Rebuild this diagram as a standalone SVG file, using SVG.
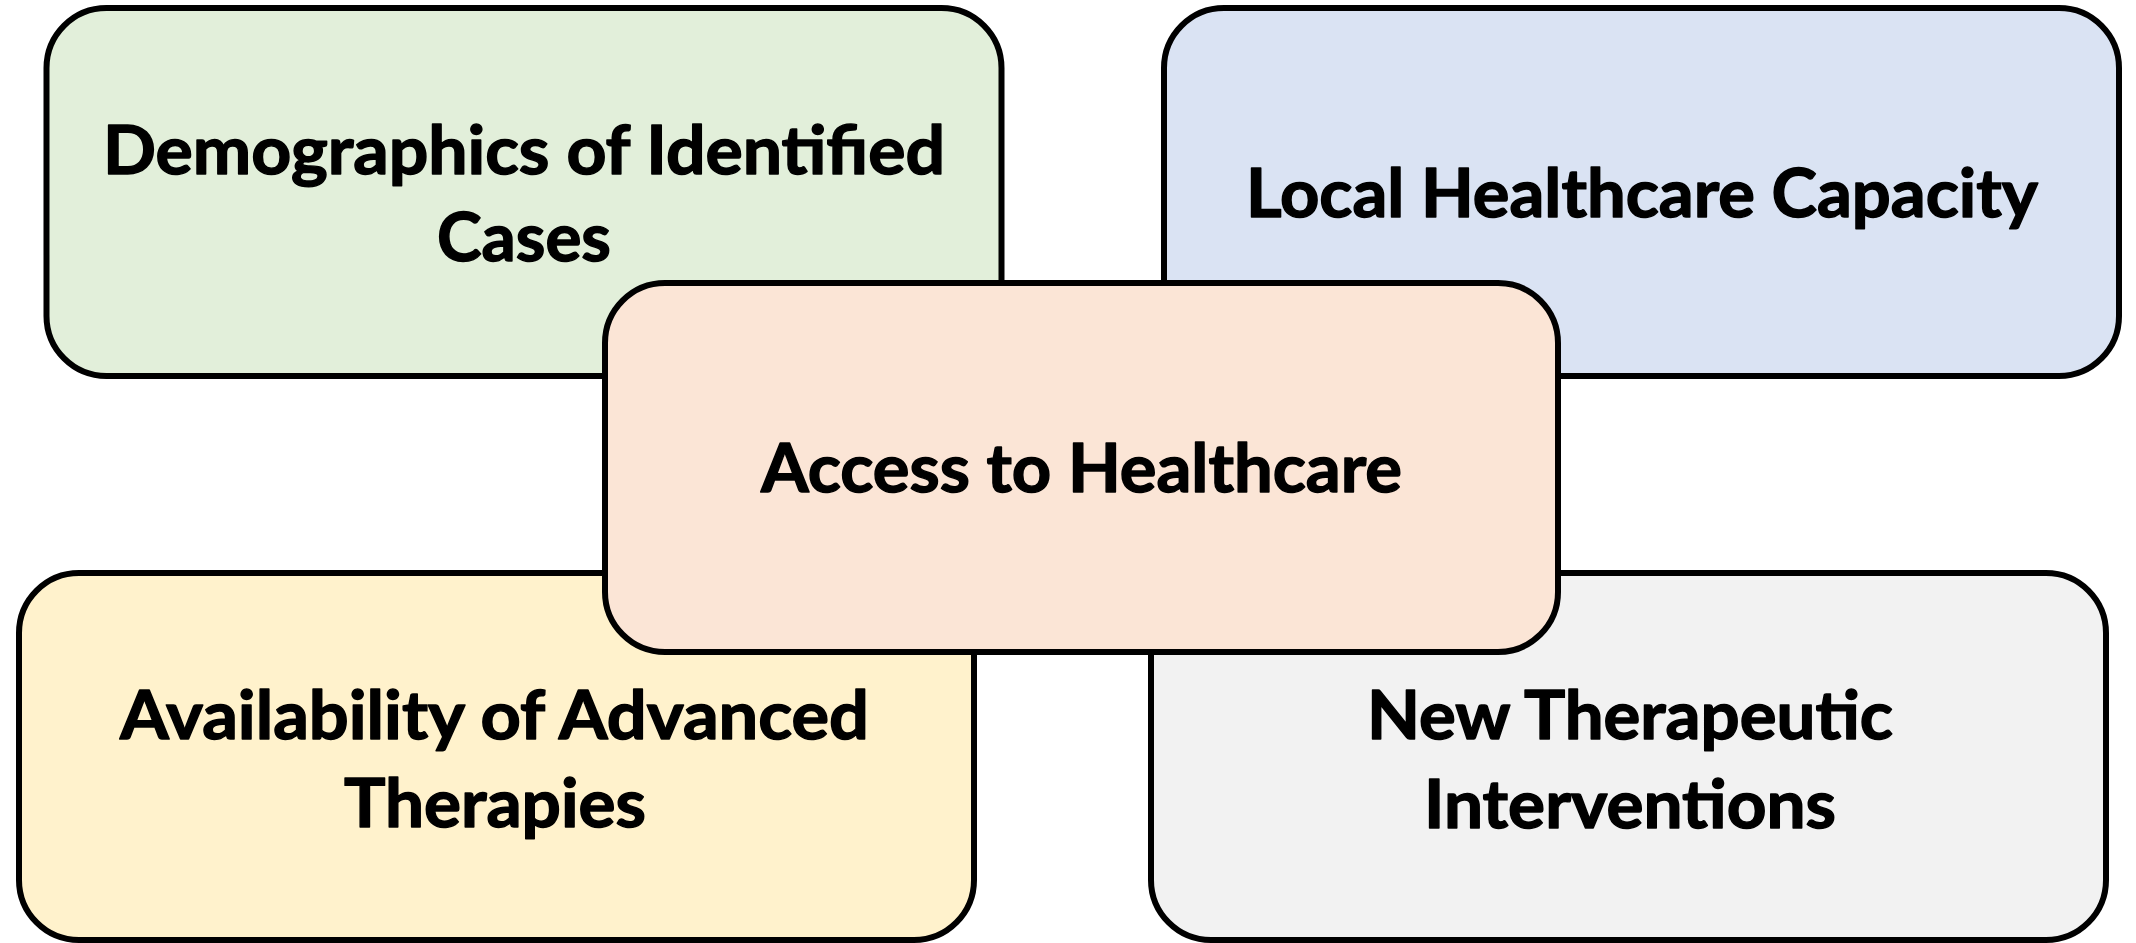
<svg xmlns="http://www.w3.org/2000/svg" width="2136" height="943" viewBox="0 0 2136 943">
  <style>
    .box { stroke: #000; stroke-width: 6; }
    .lbl { font-family: "Lato", "Liberation Sans", sans-serif; font-weight: 700; font-size: 66px; fill: #000; stroke: #000; stroke-width: 1.4; stroke-linejoin: round; }
  </style>
  <rect width="2136" height="943" fill="#ffffff"/>

  <g id="demographics">
    <rect class="box" x="46.5" y="8" width="955" height="368" rx="60" ry="60" fill="#E2EFDA"/>
    <text class="lbl" x="103" y="174" textLength="842" lengthAdjust="spacingAndGlyphs">Demographics of Identified</text>
    <text class="lbl" x="437" y="261" textLength="174" lengthAdjust="spacingAndGlyphs">Cases</text>
  </g>

  <g id="local-capacity">
    <rect class="box" x="1164" y="8" width="955" height="368" rx="60" ry="60" fill="#DAE3F3"/>
    <text class="lbl" x="1246" y="217" textLength="792" lengthAdjust="spacingAndGlyphs">Local Healthcare Capacity</text>
  </g>

  <g id="advanced-therapies">
    <rect class="box" x="19" y="573" width="955" height="367" rx="60" ry="60" fill="#FFF2CC"/>
    <text class="lbl" x="120" y="739" textLength="749" lengthAdjust="spacingAndGlyphs">Availability of Advanced</text>
    <text class="lbl" x="344" y="827" textLength="302" lengthAdjust="spacingAndGlyphs">Therapies</text>
  </g>

  <g id="new-interventions">
    <rect class="box" x="1151" y="573" width="955" height="367" rx="60" ry="60" fill="#F2F2F2"/>
    <text class="lbl" x="1367" y="739" textLength="526" lengthAdjust="spacingAndGlyphs">New Therapeutic</text>
    <text class="lbl" x="1424" y="828" textLength="412" lengthAdjust="spacingAndGlyphs">Interventions</text>
  </g>

  <g id="access">
    <rect class="box" x="605" y="283" width="953" height="369" rx="60" ry="60" fill="#FBE5D6"/>
    <text class="lbl" x="761" y="492" textLength="641" lengthAdjust="spacingAndGlyphs">Access to Healthcare</text>
  </g>

  <g id="connectors"></g>
</svg>
